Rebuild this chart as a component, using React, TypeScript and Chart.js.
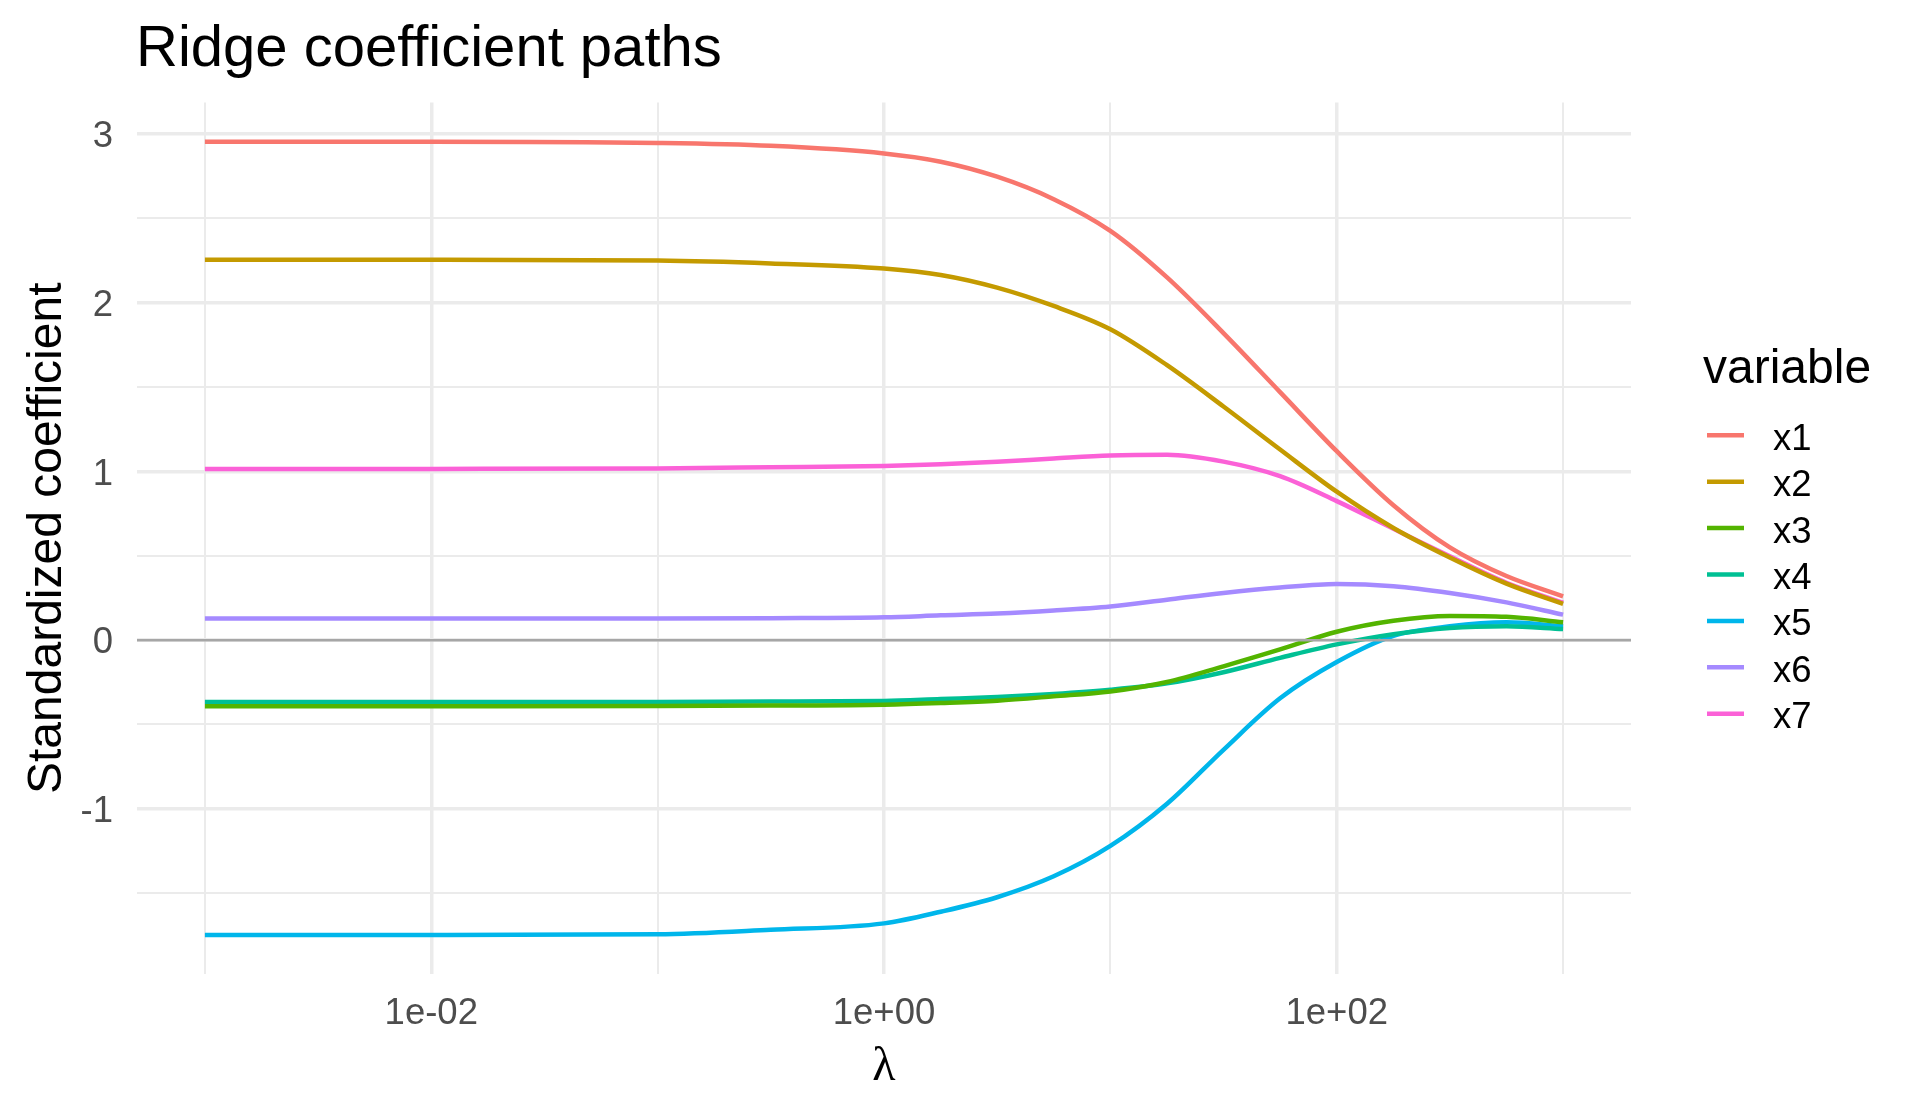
import { useEffect, useRef } from "react"
import { Chart, registerables } from "chart.js"

Chart.register(...registerables)

// lambda grid (log10 steps) and coefficient paths
const lambdas = [0.001, 0.01, 0.1, 0.316, 1, 1.78, 3.16, 5.62, 10, 17.8, 31.6, 56.2, 100, 178, 316, 562, 1000]

const variables = ["x1", "x2", "x3", "x4", "x5", "x6", "x7"]
const colors = ["#F8766D", "#C49A00", "#53B400", "#00C094", "#00B6EB", "#A58AFF", "#FB61D7"]

const x1 = [2.955, 2.955, 2.947, 2.93, 2.885, 2.836, 2.747, 2.614, 2.426, 2.15, 1.82, 1.47, 1.12, 0.8, 0.55, 0.38, 0.26]
const x2 = [2.255, 2.255, 2.25, 2.233, 2.203, 2.165, 2.09, 1.981, 1.843, 1.63, 1.385, 1.13, 0.88, 0.665, 0.49, 0.335, 0.215]
const x3 = [-0.392, -0.392, -0.391, -0.388, -0.383, -0.373, -0.359, -0.333, -0.304, -0.248, -0.155, -0.055, 0.05, 0.115, 0.143, 0.138, 0.106]
const x4 = [-0.367, -0.367, -0.366, -0.364, -0.361, -0.349, -0.337, -0.319, -0.294, -0.256, -0.19, -0.105, -0.025, 0.035, 0.072, 0.082, 0.066]
const x5 = [-1.748, -1.748, -1.744, -1.717, -1.679, -1.61, -1.524, -1.4, -1.22, -0.97, -0.65, -0.345, -0.13, 0.025, 0.082, 0.106, 0.082]
const x6 = [0.128, 0.128, 0.128, 0.13, 0.135, 0.147, 0.158, 0.176, 0.2, 0.24, 0.28, 0.312, 0.333, 0.32, 0.28, 0.224, 0.151]
const x7 = [1.014, 1.015, 1.018, 1.025, 1.033, 1.042, 1.057, 1.077, 1.095, 1.099, 1.058, 0.972, 0.824, 0.66, 0.497, 0.34, 0.222]

const series = [x1, x2, x3, x4, x5, x6, x7]

const xTickValues = [0.001, 0.01, 0.1, 1, 10, 100, 1000]
const xTickLabels = ["", "1e-02", "", "1e+00", "", "1e+02", ""]
const yTickValues = [-1.5, -1, -0.5, 0, 0.5, 1, 1.5, 2, 2.5, 3]
const yTickLabels = ["", "-1", "", "0", "", "1", "", "2", "", "3"]

const SANS = '"Liberation Sans", Arial, sans-serif'
const SERIF = '"Liberation Serif", "Times New Roman", serif'

const decorPlugin = {
  id: "decor",
  afterDatasetsDraw(chart: any) {
    const { ctx, chartArea, scales } = chart
    const y0 = scales.y.getPixelForValue(0)
    ctx.save()
    ctx.strokeStyle = "#A6A6A6"
    ctx.lineWidth = 2.5
    ctx.beginPath()
    ctx.moveTo(chartArea.left, y0)
    ctx.lineTo(chartArea.right, y0)
    ctx.stroke()
    ctx.restore()
  },
  afterDraw(chart: any) {
    const { ctx, chartArea } = chart
    ctx.save()
    ctx.fillStyle = "#000000"

    // plot title
    ctx.font = `58px ${SANS}`
    ctx.textAlign = "left"
    ctx.textBaseline = "alphabetic"
    ctx.fillText("Ridge coefficient paths", chartArea.left - 1, 66)

    // x axis title
    ctx.font = `48px ${SERIF}`
    ctx.textAlign = "center"
    ctx.fillText("λ", (chartArea.left + chartArea.right) / 2, 1080)

    // y axis title
    ctx.save()
    ctx.translate(61, (chartArea.top + chartArea.bottom) / 2)
    ctx.rotate(-Math.PI / 2)
    ctx.font = `48px ${SANS}`
    ctx.textAlign = "center"
    ctx.fillText("Standardized coefficient", 0, 0)
    ctx.restore()

    // legend
    ctx.textAlign = "left"
    ctx.font = `48px ${SANS}`
    ctx.fillText("variable", 1703, 383)
    ctx.font = `36.5px ${SANS}`
    variables.forEach((name, i) => {
      const cy = 435.3 + i * 46.4
      ctx.strokeStyle = colors[i]
      ctx.lineWidth = 4.5
      ctx.lineCap = "butt"
      ctx.beginPath()
      ctx.moveTo(1707, cy)
      ctx.lineTo(1744, cy)
      ctx.stroke()
      ctx.fillStyle = "#000000"
      ctx.fillText(name, 1773, cy + 14.5)
    })
    ctx.restore()
  },
}

export default function App() {
  const canvasRef = useRef<HTMLCanvasElement>(null)

  useEffect(() => {
    document.body.style.margin = "0"
    if (!canvasRef.current) return

    const datasets = variables.map((name, i) => ({
      label: name,
      data: lambdas.map((l, j) => ({ x: l, y: series[i][j] })),
      borderColor: colors[i],
      backgroundColor: colors[i],
      borderWidth: 4.5,
      pointRadius: 0,
      cubicInterpolationMode: "monotone" as const,
      fill: false,
    }))

    const chart = new Chart(canvasRef.current, {
      type: "line",
      data: { datasets },
      plugins: [decorPlugin],
      options: {
        animation: false,
        responsive: false,
        devicePixelRatio: 1,
        layout: { padding: { left: 0, right: 289, top: 102.5, bottom: 0 } },
        plugins: {
          legend: { display: false },
          tooltip: { enabled: false },
          title: { display: false },
        },
        scales: {
          x: {
            type: "logarithmic",
            bounds: "data",
            min: 0.000501187,
            max: 1995.26,
            border: { display: false },
            grid: {
              drawTicks: false,
              color: "#EBEBEB",
              lineWidth: (ctx: any) => (xTickLabels[ctx.index] ? 3.5 : 2),
            },
            afterBuildTicks: (scale: any) => {
              scale.ticks = xTickValues.map((v) => ({ value: v }))
            },
            afterFit: (scale: any) => {
              scale.height = 139
            },
            ticks: {
              autoSkip: false,
              maxRotation: 0,
              padding: 18,
              color: "#4D4D4D",
              font: { family: SANS, size: 36.5 },
              callback: (_v: any, i: number) => xTickLabels[i],
            },
          },
          y: {
            type: "linear",
            bounds: "data",
            min: -1.979,
            max: 3.187,
            border: { display: false },
            grid: {
              drawTicks: false,
              color: "#EBEBEB",
              lineWidth: (ctx: any) => (yTickLabels[ctx.index] ? 3.5 : 2),
            },
            afterBuildTicks: (scale: any) => {
              scale.ticks = yTickValues.map((v) => ({ value: v }))
            },
            afterFit: (scale: any) => {
              scale.width = 137
            },
            ticks: {
              autoSkip: false,
              padding: 24,
              labelOffset: 3,
              color: "#4D4D4D",
              font: { family: SANS, size: 36.5 },
              callback: (_v: any, i: number) => yTickLabels[i],
            },
          },
        },
      },
    })

    return () => chart.destroy()
  }, [])

  return <canvas ref={canvasRef} width={1920} height={1113} style={{ display: "block" }} />
}
